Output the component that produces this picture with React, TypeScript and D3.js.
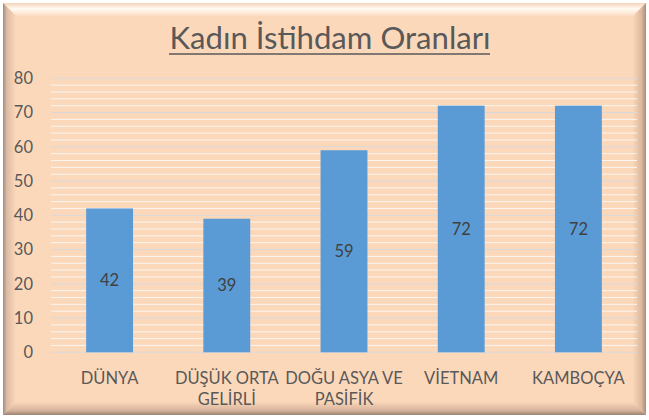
import React from "react";
import * as d3 from "d3";

const categories = ["DÜNYA", "DÜŞÜK ORTA GELİRLİ", "DOĞU ASYA VE PASİFİK", "VİETNAM", "KAMBOÇYA"];
const categoryLines = [["DÜNYA"], ["DÜŞÜK ORTA", "GELİRLİ"], ["DOĞU ASYA VE", "PASİFİK"], ["VİETNAM"], ["KAMBOÇYA"]];
const values = [42, 39, 59, 72, 72];
const yTicks = [0, 10, 20, 30, 40, 50, 60, 70, 80];
const title = "Kadın İstihdam Oranları";

const W = 649;
const H = 420;
const FONT = "Lato, 'Open Sans', sans-serif";

export default function App() {
  const x = d3.scaleBand<string>().domain(categories).range([51, 637]).paddingInner(0.6).paddingOuter(0.3);
  const y = d3.scaleLinear().domain([0, 80]).range([352.3, 78.3]);
  const minor = d3.range(0, 81, 2).filter((v) => v % 10 !== 0);

  const fx = 3, fy = 3, fw = 643, fh = 412, b = 13;
  const x2 = fx + fw, y2 = fy + fh;

  return (
    <svg width={W} height={H} style={{ position: "absolute", left: 0, top: 0 }}>
      <defs>
        <linearGradient id="gTop" x1="0" y1="0" x2="0" y2="1">
          <stop offset="0" stopColor="#f6d3b8" />
          <stop offset="0.45" stopColor="#fffbf3" />
          <stop offset="1" stopColor="#fcdcc2" />
        </linearGradient>
        <linearGradient id="gLeft" x1="0" y1="0" x2="1" y2="0">
          <stop offset="0" stopColor="#a38c7e" />
          <stop offset="0.3" stopColor="#dcbca4" />
          <stop offset="1" stopColor="#fcd8bb" />
        </linearGradient>
        <linearGradient id="gRight" x1="1" y1="0" x2="0" y2="0">
          <stop offset="0" stopColor="#a88d7c" />
          <stop offset="0.35" stopColor="#dcb89e" />
          <stop offset="1" stopColor="#fad6b8" />
        </linearGradient>
        <linearGradient id="gBottom" x1="0" y1="1" x2="0" y2="0">
          <stop offset="0" stopColor="#9a8274" />
          <stop offset="0.35" stopColor="#d6b49c" />
          <stop offset="1" stopColor="#fad6b8" />
        </linearGradient>
      </defs>
      <rect x={0} y={0} width={W} height={H} fill="#ffffff" />
      <rect x={fx} y={fy} width={fw} height={fh} fill="#fcd8bb" />
      <polygon points={`${fx},${fy} ${x2},${fy} ${x2 - b},${fy + b} ${fx + b},${fy + b}`} fill="url(#gTop)" />
      <polygon points={`${fx},${fy} ${fx + b},${fy + b} ${fx + b},${y2 - b} ${fx},${y2}`} fill="url(#gLeft)" />
      <polygon points={`${x2},${fy} ${x2},${y2} ${x2 - b},${y2 - b} ${x2 - b},${fy + b}`} fill="url(#gRight)" />
      <polygon points={`${fx},${y2} ${fx + b},${y2 - b} ${x2 - b},${y2 - b} ${x2},${y2}`} fill="url(#gBottom)" />

      <text
        x={330}
        y={49}
        textAnchor="middle"
        fontFamily={FONT}
        fontSize={30}
        fill="#595959"
        textLength={321}
        lengthAdjust="spacingAndGlyphs"
      >
        {title}
      </text>
      <line x1={169} x2={490} y1={54} y2={54} stroke="#595959" strokeWidth={1.5} />

      {minor.map((v) => (
        <line key={"m" + v} x1={51} x2={637} y1={y(v)} y2={y(v)} stroke="#f9f5f0" strokeWidth={1} />
      ))}
      {yTicks.map((v) => (
        <line key={"g" + v} x1={51} x2={637} y1={y(v)} y2={y(v)} stroke="#d9dadb" strokeWidth={1} />
      ))}
      {yTicks.map((v) => (
        <text key={"t" + v} x={33} y={y(v)} dy="0.36em" textAnchor="end" fontFamily={FONT} fontSize={16.5} fill="#595959">
          {v}
        </text>
      ))}

      {categories.map((c, i) => (
        <g key={c}>
          <rect x={x(c)} y={y(values[i])} width={x.bandwidth()} height={y(0) - y(values[i])} fill="#5b9bd5" />
          <text
            x={(x(c) as number) + x.bandwidth() / 2}
            y={(y(values[i]) + y(0)) / 2}
            dy="0.36em"
            textAnchor="middle"
            fontFamily={FONT}
            fontSize={16.5}
            fill="#404040"
          >
            {values[i]}
          </text>
          {categoryLines[i].map((ln, j) => (
            <text
              key={j}
              x={(x(c) as number) + x.bandwidth() / 2}
              y={384 + j * 21}
              textAnchor="middle"
              fontFamily={FONT}
              fontSize={16.5}
              fill="#595959"
            >
              {ln}
            </text>
          ))}
        </g>
      ))}
    </svg>
  );
}
